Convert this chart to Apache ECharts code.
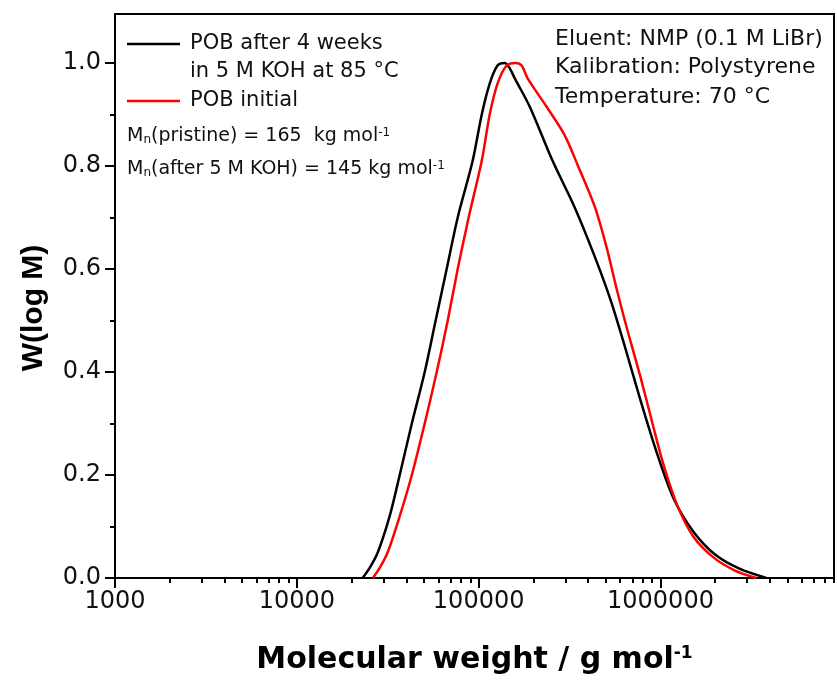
<!DOCTYPE html>
<html>
<head>
<meta charset="utf-8">
<script src="https://cdn.jsdelivr.net/npm/echarts@6/dist/echarts.min.js"></script>
<style>html,body{margin:0;padding:0;background:#fff}#c{width:837px;height:684px}</style>
</head>
<body>
<div id="c"></div>
<script>
// ---- data (molecular weight in g/mol, W(log M)) ----
const afterName = 'POB after 4 weeks in 5 M KOH at 85 °C';
const initialName = 'POB initial';
const afterM = [23000, 25200, 27900, 32400, 36800, 42900, 50500, 58000, 66700, 76700, 92700, 104000, 115000, 127000, 139000, 148000, 158000, 191000, 255000, 337000, 434000, 531300, 642300, 776500, 950600, 1178600, 1518000, 2005000, 2718000, 3823000];
const afterW = [0, 0.02, 0.05, 0.12, 0.2, 0.3, 0.4, 0.5, 0.6, 0.7, 0.81, 0.9, 0.96, 0.995, 1.0, 0.99, 0.97, 0.915, 0.81, 0.72, 0.625, 0.54, 0.445, 0.345, 0.245, 0.155, 0.09, 0.045, 0.018, 0];
const initialM = [26200, 28600, 31600, 36800, 42900, 50500, 58800, 67600, 76700, 88100, 104000, 115000, 127000, 142500, 159700, 172300, 185900, 236400, 296900, 352000, 436000, 507000, 575000, 659000, 776500, 903600, 1039000, 1240000, 1518000, 1955000, 2550000, 3370000];
const initialW = [0, 0.02, 0.05, 0.12, 0.2, 0.3, 0.4, 0.5, 0.6, 0.7, 0.81, 0.9, 0.96, 0.995, 1.0, 0.995, 0.97, 0.915, 0.86, 0.80, 0.72, 0.64, 0.56, 0.48, 0.39, 0.30, 0.22, 0.14, 0.08, 0.04, 0.015, 0];
const xMin = 1000, xMax = 9000000;
const xMajorTicks = [1000, 10000, 100000, 1000000];
const xMinorTicks = [2000,3000,4000,5000,6000,7000,8000,9000,20000,30000,40000,50000,60000,70000,80000,90000,200000,300000,400000,500000,600000,700000,800000,900000,2000000,3000000,4000000,5000000,6000000,7000000,8000000,9000000];
const yMin = 0, yMax = 1.095, yInterval = 0.2;
const yMinorTicks = [0.1, 0.3, 0.5, 0.7, 0.9];

const afterData = afterM.map((m, i) => [m, afterW[i]]);
const initialData = initialM.map((m, i) => [m, initialW[i]]);

const FONT = 'DejaVu Sans';
const chart = echarts.init(document.getElementById('c'));
chart.setOption({
  animation: false,
  backgroundColor: '#fff',
  grid: { left: 115, right: 3, top: 14, bottom: 106, show: true, borderColor: '#000', borderWidth: 2, backgroundColor: 'transparent' },
  xAxis: [{
    type: 'log', logBase: 10, min: xMin, max: xMax, position: 'bottom',
    axisLine: { show: true, lineStyle: { color: '#000', width: 2 } },
    axisTick: { show: true, length: 10, lineStyle: { color: '#000', width: 2 }, customValues: xMajorTicks },
    axisLabel: { show: true, customValues: xMajorTicks, margin: 12, fontSize: 24, fontFamily: FONT, color: '#111', formatter: v => String(Math.round(v)) },
    splitLine: { show: false },
    name: '{t|Molecular weight / g mol}{s|-1}', nameLocation: 'middle', nameGap: 67,
    nameTextStyle: { rich: { t: { fontSize: 30, fontWeight: 'bold', fontFamily: FONT, color: '#000' }, s: { fontSize: 17, fontWeight: 'bold', fontFamily: FONT, color: '#000', verticalAlign: 'top' } } }
  }, {
    type: 'log', logBase: 10, min: xMin, max: xMax, position: 'bottom',
    axisLine: { show: false },
    axisTick: { show: true, length: 5, lineStyle: { color: '#000', width: 2 }, customValues: xMinorTicks },
    axisLabel: { show: false },
    splitLine: { show: false }
  }],
  yAxis: [{
    type: 'value', min: yMin, max: yMax, interval: yInterval, position: 'left',
    axisLine: { show: true, lineStyle: { color: '#000', width: 2 } },
    axisTick: { show: true, length: 10, lineStyle: { color: '#000', width: 2 } },
    axisLabel: { margin: 14, fontSize: 24, fontFamily: FONT, color: '#111', showMaxLabel: false, formatter: v => v.toFixed(1) },
    splitLine: { show: false },
    name: 'W(log M)', nameLocation: 'middle', nameGap: 66, nameRotate: 90,
    nameTextStyle: { fontSize: 30, fontWeight: 'bold', fontFamily: 'Liberation Sans', color: '#000', padding: [0, 24, 0, 0] }
  }, {
    type: 'value', min: yMin, max: yMax, position: 'left',
    axisLine: { show: false },
    axisTick: { show: true, length: 5, lineStyle: { color: '#000', width: 2 }, customValues: yMinorTicks },
    axisLabel: { show: false },
    splitLine: { show: false }
  }],
  legend: {
    orient: 'vertical', left: 127, top: 32, padding: 0, itemGap: 33,
    icon: 'rect', itemWidth: 53, itemHeight: 2.5,
    data: [afterName, initialName],
    formatter: n => n === afterName ? 'POB after 4 weeks' : n,
    textStyle: { fontSize: 21, fontFamily: FONT, color: '#111', lineHeight: 24, padding: [0, 0, 0, 5] }
  },
  graphic: [
    { type: 'text', left: 190, top: 61, style: { text: 'in 5 M KOH at 85 °C', fontSize: 21, fontFamily: FONT, fill: '#111' } },
    { type: 'text', left: 127, top: 127, style: { text: '{t|M}{b|n}{t|(pristine) = 165  kg mol}{p|-1}', rich: { t: { fontSize: 19, fontFamily: FONT, fill: '#111' }, b: { fontSize: 12, fontFamily: FONT, fill: '#111', verticalAlign: 'bottom' }, p: { fontSize: 12, fontFamily: FONT, fill: '#111', verticalAlign: 'top' } } } },
    { type: 'text', left: 127, top: 160, style: { text: '{t|M}{b|n}{t|(after 5 M KOH) = 145 kg mol}{p|-1}', rich: { t: { fontSize: 19, fontFamily: FONT, fill: '#111' }, b: { fontSize: 12, fontFamily: FONT, fill: '#111', verticalAlign: 'bottom' }, p: { fontSize: 12, fontFamily: FONT, fill: '#111', verticalAlign: 'top' } } } },
    { type: 'text', left: 555, top: 28, style: { text: 'Eluent: NMP (0.1 M LiBr)', fontSize: 22, fontFamily: FONT, fill: '#111' } },
    { type: 'text', left: 555, top: 56, style: { text: 'Kalibration: Polystyrene', fontSize: 22, fontFamily: FONT, fill: '#111' } },
    { type: 'text', left: 555, top: 86, style: { text: 'Temperature: 70 °C', fontSize: 22, fontFamily: FONT, fill: '#111' } }
  ],
  series: [{
    name: afterName, type: 'line', xAxisIndex: 0, yAxisIndex: 0, data: afterData,
    smooth: 0.3, symbol: 'none', lineStyle: { color: '#000', width: 2.5 }, itemStyle: { color: '#000' }
  }, {
    name: initialName, type: 'line', xAxisIndex: 0, yAxisIndex: 0, data: initialData,
    smooth: 0.3, symbol: 'none', lineStyle: { color: '#ff0000', width: 2.5 }, itemStyle: { color: '#ff0000' }
  }]
});
</script>
</body>
</html>
